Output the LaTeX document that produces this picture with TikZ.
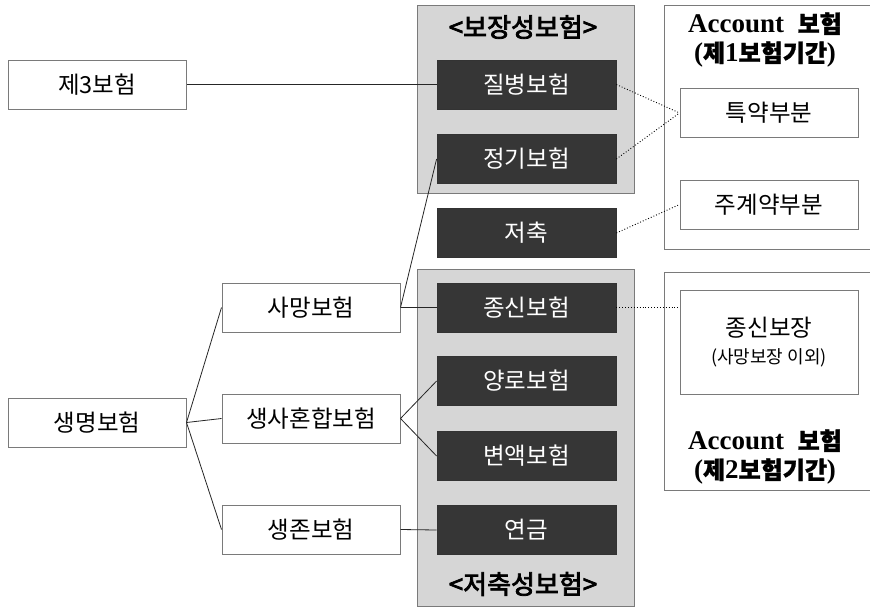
\documentclass[tikz,border=0pt]{standalone}
\usepackage{fontspec}
\setmainfont{Liberation Serif}
\newfontfamily\kr{Noto Sans CJK KR}
\newfontfamily\krb[FakeBold=3]{Noto Sans CJK KR}
\newfontfamily\krm[FakeBold=1.2]{Noto Sans CJK KR}
\definecolor{panelgray}{HTML}{D6D6D6}
\definecolor{darkbox}{HTML}{363636}
\definecolor{edgegray}{HTML}{7A7A7A}
\tikzset{
  whitebox/.style={draw=edgegray, line width=1pt, fill=white, minimum width=178pt, minimum height=49pt, inner sep=0pt, font=\kr\fontsize{23.5}{26}\selectfont},
  darkbox/.style={draw=black!80, line width=0.8pt, fill=darkbox, text=white, minimum width=179pt, minimum height=49pt, inner sep=0pt, font=\kr\fontsize{23.5}{26}\selectfont},
  panel/.style={draw=edgegray, line width=1pt, fill=panelgray},
  rpanel/.style={draw=edgegray, line width=1pt, fill=white},
  title/.style={inner sep=0pt, font=\krb\fontsize{26}{30}\selectfont},
  acc/.style={inner sep=0pt, align=center, font=\bfseries\fontsize{27}{29}\selectfont},
  conn/.style={line width=0.8pt, draw=black!85},
  dotconn/.style={line width=0.9pt, draw=black, dotted},
}
\newcommand{\kb}[1]{{\krm\fontsize{24}{29}\selectfont #1}}
\begin{document}
\begin{tikzpicture}[x=1pt,y=-1pt]
\useasboundingbox (0,0) rectangle (870,608);
\clip (0,0) rectangle (870,608);
\fill[white] (0,0) rectangle (870,608);
% gray panels
\node[panel, minimum width=217pt, minimum height=188pt, inner sep=0pt] (g1) at (525.5,99) {};
\node[panel, minimum width=217pt, minimum height=337pt, inner sep=0pt] (g2) at (525.5,437.5) {};
\node[title] (t1) at (523,27) {<보장성보험>};
\node[title] (t2) at (523,584) {<저축성보험>};
% right panels
\node[rpanel, minimum width=216pt, minimum height=244pt, inner sep=0pt] (r1) at (772,127) {};
\node[rpanel, minimum width=216pt, minimum height=218pt, inner sep=0pt] (r2) at (772,381) {};
\node[acc] (a1) at (765,40) {Account\ \ \kb{보험}\\(\kb{제}1\kb{보험기간})};
\node[acc] (a2) at (765,457) {Account\ \ \kb{보험}\\(\kb{제}2\kb{보험기간})};
% left boxes
\node[whitebox] (t3) at (97,84.5) {제3보험};
\node[whitebox] (life) at (97,422.5) {생명보험};
\node[whitebox] (death) at (311,307.5) {사망보험};
\node[whitebox] (mixed) at (311,418.5) {생사혼합보험};
\node[whitebox] (surv) at (311,529.5) {생존보험};
% dark boxes
\node[darkbox] (d1) at (526.5,84.5) {질병보험};
\node[darkbox] (d2) at (526.5,159) {정기보험};
\node[darkbox] (d3) at (526.5,233) {저축};
\node[darkbox] (d4) at (526.5,307.5) {종신보험};
\node[darkbox] (d5) at (526.5,381) {양로보험};
\node[darkbox] (d6) at (526.5,456) {변액보험};
\node[darkbox] (d7) at (526.5,530) {연금};
% right boxes
\node[whitebox] (s1) at (769,113) {특약부분};
\node[whitebox] (s2) at (769,204.5) {주계약부분};
\node[whitebox, minimum height=104pt, align=center] (s3) at (769,342) {종신보장\\[1pt]{\fontsize{18}{20}\selectfont (사망보장 이외)}};
% connectors
\draw[conn] (t3.east) -- (d1.west);
\draw[conn] (life.east) -- (death.west);
\draw[conn] (life.east) -- (mixed.west);
\draw[conn] (life.east) -- (surv.west);
\draw[conn] (death.east) -- (d4.west);
\draw[conn] (death.east) -- (d2.west);
\draw[conn] (mixed.east) -- (d5.west);
\draw[conn] (mixed.east) -- (d6.west);
\draw[conn] (surv.east) -- (d7.west);
\draw[dotconn] (d1.east) -- (s1.west);
\draw[dotconn] (d2.east) -- (s1.west);
\draw[dotconn] (d3.east) -- (s2.west);
\draw[dotconn] (d4.east) -- (d4.east -| s3.west);
\end{tikzpicture}
\end{document}
